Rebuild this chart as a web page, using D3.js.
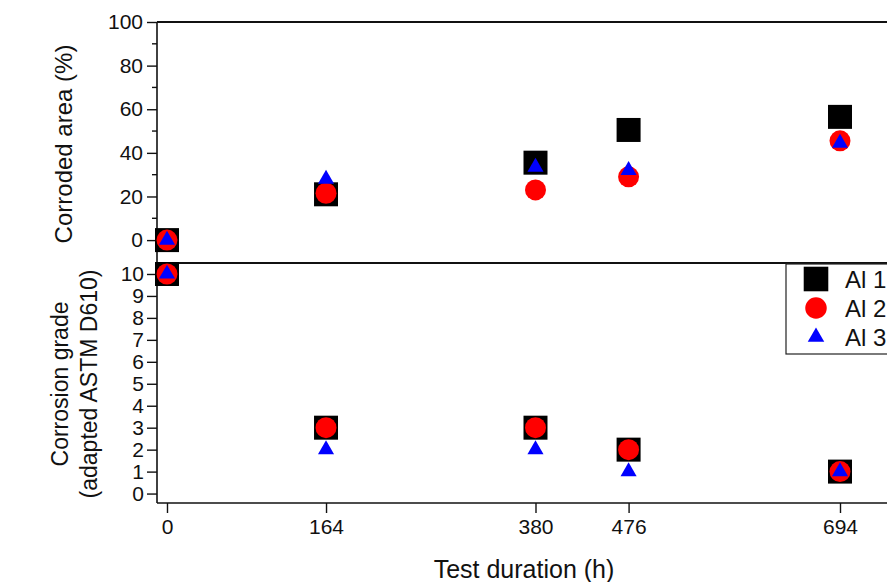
<!DOCTYPE html>
<html>
<head>
<meta charset="utf-8">
<script src="https://cdn.jsdelivr.net/npm/d3@7"></script>
<style>
  body { margin: 0; background: #fff; }
  svg { font-family: "Liberation Sans", Arial, sans-serif; }
</style>
</head>
<body>
<svg id="chart"></svg>
<script>
// test durations (h)
const hours = [0, 164, 380, 476, 694]
const seriesNames = ["Al 1", "Al 2", "Al 3"]

// corroded area (%)
const al1Area = [0, 21, 35.5, 50.5, 56.5]
const al2Area = [0, 21.5, 23, 29, 45.5]
const al3Area = [0, 28, 33.5, 32, 44.5]

// corrosion grade (adapted ASTM D610)
const al1Grade = [10, 3, 3, 2, 1]
const al2Grade = [10, 3, 3, 2, 1]
const al3Grade = [10, 2, 2, 1, 1]

const areaTicks = [0, 20, 40, 60, 80, 100]
const areaMinor = [10, 30, 50, 70, 90]
const gradeTicks = [0, 1, 2, 3, 4, 5, 6, 7, 8, 9, 10]

const width = 887, height = 582

const svg = d3.select("#chart")
  .attr("width", width)
  .attr("height", height)

const x = d3.scaleLinear().domain([-10.3, 760]).range([157, 904])
const yTop = d3.scaleLinear().domain([-10.5, 100]).range([263, 22])
const yBot = d3.scaleLinear().domain([-0.43, 10.5]).range([503, 263])

const marks = [
  {name: seriesNames[0], shape: d3.symbolSquare, size: 576, color: "#000"},
  {name: seriesNames[1], shape: d3.symbolCircle, size: 346, color: "#ff0000"},
  {name: seriesNames[2], shape: d3.symbolTriangle, size: 112, color: "#0000ff"}
]

const areaSeries = [al1Area, al2Area, al3Area]
const gradeSeries = [al1Grade, al2Grade, al3Grade]

// frame lines
const frame = svg.append("g").attr("stroke", "#111").attr("fill", "none")
frame.append("line")
  .attr("x1", x.range()[0]).attr("x2", width)
  .attr("y1", yTop(100)).attr("y2", yTop(100))
  .attr("stroke-width", 2)
frame.append("line")
  .attr("x1", x.range()[0]).attr("x2", width)
  .attr("y1", yTop.range()[0]).attr("y2", yTop.range()[0])
  .attr("stroke-width", 2)

// top y axis
const axTop = svg.append("g")
  .attr("transform", `translate(${x.range()[0]},0)`)
  .call(d3.axisLeft(yTop).tickValues(areaTicks).tickSize(10).tickPadding(4))
axTop.select(".domain").remove()
axTop.append("line")
  .attr("y1", yTop.range()[1]).attr("y2", yTop.range()[0])
  .attr("stroke", "#111").attr("stroke-width", 1.6)
axTop.selectAll(".minor")
  .data(areaMinor)
  .enter().append("line")
  .attr("class", "minor")
  .attr("x1", -5).attr("x2", 0)
  .attr("y1", d => yTop(d)).attr("y2", d => yTop(d))
  .attr("stroke", "#111").attr("stroke-width", 1.4)

// bottom y axis
const axBot = svg.append("g")
  .attr("transform", `translate(${x.range()[0]},0)`)
  .call(d3.axisLeft(yBot).tickValues(gradeTicks).tickSize(10).tickPadding(3))
axBot.select(".domain").remove()
axBot.append("line")
  .attr("y1", yBot.range()[1]).attr("y2", yBot.range()[0])
  .attr("stroke", "#111").attr("stroke-width", 1.6)

// x axis
const axX = svg.append("g")
  .attr("transform", `translate(0,${yBot.range()[0]})`)
  .call(d3.axisBottom(x).tickValues(hours).tickFormat(d3.format("d")).tickSize(10).tickPadding(6))
axX.select(".domain").remove()
axX.append("line")
  .attr("x1", x.range()[0]).attr("x2", width)
  .attr("stroke", "#111").attr("stroke-width", 1.6)

svg.selectAll(".tick line").attr("stroke", "#111").attr("stroke-width", 1.4)
svg.selectAll(".tick text").attr("fill", "#111").style("font-size", "21px")

// markers
function drawPoints(series, yScale) {
  marks.forEach((m, i) => {
    svg.append("g")
      .selectAll("path")
      .data(series[i].map((v, j) => ({t: hours[j], v})))
      .enter().append("path")
      .attr("d", d3.symbol().type(m.shape).size(m.size))
      .attr("transform", d => `translate(${x(d.t)},${yScale(d.v)})`)
      .attr("fill", m.color)
  })
}
drawPoints(areaSeries, yTop)
drawPoints(gradeSeries, yBot)

// legend (runs past the right edge, as in the cropped original)
const legend = svg.append("g").attr("transform", "translate(786,264)")
legend.append("rect")
  .attr("width", 130).attr("height", 90)
  .attr("fill", "#fff").attr("stroke", "#222").attr("stroke-width", 1.2)
const legendY = d3.scalePoint().domain(seriesNames).range([15, 73])
marks.forEach(m => {
  legend.append("path")
    .attr("d", d3.symbol().type(m.shape).size(m.size * 1.05))
    .attr("transform", `translate(30,${legendY(m.name)})`)
    .attr("fill", m.color)
  legend.append("text")
    .attr("x", 59).attr("y", legendY(m.name))
    .attr("dy", "0.36em")
    .style("font-size", "24px")
    .attr("fill", "#111")
    .text(m.name)
})

// axis titles
svg.append("text")
  .attr("x", 524).attr("y", 578)
  .attr("text-anchor", "middle")
  .style("font-size", "25px").attr("fill", "#111")
  .text("Test duration (h)")

svg.append("text")
  .attr("transform", "translate(72,144) rotate(-90)")
  .attr("text-anchor", "middle")
  .style("font-size", "24px").attr("fill", "#111")
  .text("Corroded area (%)")

svg.append("text")
  .attr("transform", "translate(68,384) rotate(-90)")
  .attr("text-anchor", "middle")
  .style("font-size", "23px").attr("fill", "#111")
  .text("Corrosion grade")

svg.append("text")
  .attr("transform", "translate(97,384) rotate(-90)")
  .attr("text-anchor", "middle")
  .style("font-size", "23px").attr("fill", "#111")
  .text("(adapted ASTM D610)")
</script>
</body>
</html>
